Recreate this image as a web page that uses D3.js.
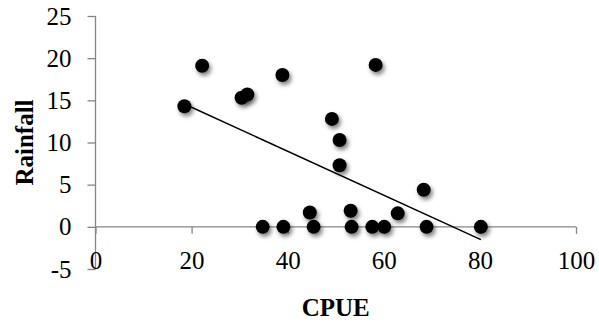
<!DOCTYPE html>
<html>
<head>
<meta charset="utf-8">
<script src="https://cdn.jsdelivr.net/npm/d3@7"></script>
<style>
  body { margin: 0; background: #fff; }
  svg text { font-family: "Times New Roman", "Liberation Serif", "DejaVu Serif", serif !important; }
</style>
</head>
<body>
<div id="chart"></div>
<script>
const cpue = [18.5, 22.2, 30.4, 31.6, 38.9, 58.3, 49.2, 50.8, 50.8, 68.3, 44.6, 53.1, 62.9,
  34.8, 39.1, 45.4, 53.3, 57.6, 60.1, 68.9, 80.2];
const rainfall = [14.3, 19.1, 15.3, 15.7, 18.0, 19.2, 12.8, 10.3, 7.3, 4.4, 1.7, 1.9, 1.6,
  0, 0, 0, 0, 0, 0, 0, 0];
const xTicks = [0, 20, 40, 60, 80, 100];
const yTicks = [-5, 0, 5, 10, 15, 20, 25];

const width = 599, height = 325;
const axisColor = "#868686";

const svg = d3.select("#chart").append("svg")
  .attr("width", width)
  .attr("height", height);

const defs = svg.append("defs");
const shadow = defs.append("filter").attr("id", "shadow")
  .attr("x", "-50%").attr("y", "-50%").attr("width", "200%").attr("height", "200%");
shadow.append("feDropShadow")
  .attr("dx", 2).attr("dy", 3)
  .attr("stdDeviation", 2.2)
  .attr("flood-color", "#000")
  .attr("flood-opacity", 0.5);

const x = d3.scaleLinear().domain([0, 100]).range([95.5, 576]);
const y = d3.scaleLinear().domain([-5, 25]).range([269, 16]);

// y axis
const yAxis = svg.append("g")
  .attr("transform", `translate(${x(0)},0)`)
  .call(d3.axisLeft(y).tickValues(yTicks).tickSize(8).tickPadding(16).tickFormat(d => String(d)));
yAxis.select(".domain").attr("stroke", axisColor).attr("stroke-width", 1.3).attr("d", `M0,${y(-5)}V${y(25)}`);
yAxis.selectAll(".tick line").attr("stroke", axisColor).attr("stroke-width", 1.3);
yAxis.selectAll(".tick text")
  .attr("fill", "#000")
  .style("font-size", "25px");

// x axis at y = 0, labels below
const xAxis = svg.append("g")
  .attr("transform", `translate(0,${y(0)})`)
  .call(d3.axisBottom(x).tickValues(xTicks).tickSize(7).tickPadding(17).tickFormat(d => String(d)));
xAxis.select(".domain").attr("stroke", axisColor).attr("stroke-width", 1.3).attr("d", `M${x(0)},0H${x(100)}`);
xAxis.selectAll(".tick line").attr("stroke", axisColor).attr("stroke-width", 1.3);
xAxis.selectAll(".tick text")
  .attr("fill", "#000")
  .style("font-size", "25px");

// points
const data = cpue.map((c, i) => ({ x: c, y: rainfall[i] }));

svg.append("g")
  .selectAll("circle")
  .data(data)
  .enter()
  .append("circle")
  .attr("cx", d => x(d.x))
  .attr("cy", d => y(d.y))
  .attr("r", 7)
  .attr("fill", "#000")
  .style("filter", "url(#shadow)");

// linear trend line (least squares)
const mx = d3.mean(data, d => d.x), my = d3.mean(data, d => d.y);
const sxy = d3.sum(data, d => (d.x - mx) * (d.y - my));
const sxx = d3.sum(data, d => (d.x - mx) * (d.x - mx));
const slope = sxy / sxx, intercept = my - slope * mx;
const [xmin, xmax] = d3.extent(data, d => d.x);

svg.append("line")
  .attr("x1", x(xmin))
  .attr("y1", y(intercept + slope * xmin))
  .attr("x2", x(xmax))
  .attr("y2", y(intercept + slope * xmax))
  .attr("stroke", "#000")
  .attr("stroke-width", 1.5);

// axis titles
svg.append("text")
  .attr("x", (x(0) + x(100)) / 2)
  .attr("y", 316)
  .attr("text-anchor", "middle")
  .style("font-size", "25px")
  .style("font-weight", "bold")
  .text("CPUE");

svg.append("text")
  .attr("transform", `translate(33,${(y(-5) + y(25)) / 2}) rotate(-90)`)
  .attr("text-anchor", "middle")
  .style("font-size", "25px")
  .style("font-weight", "bold")
  .text("Rainfall");
</script>
</body>
</html>
